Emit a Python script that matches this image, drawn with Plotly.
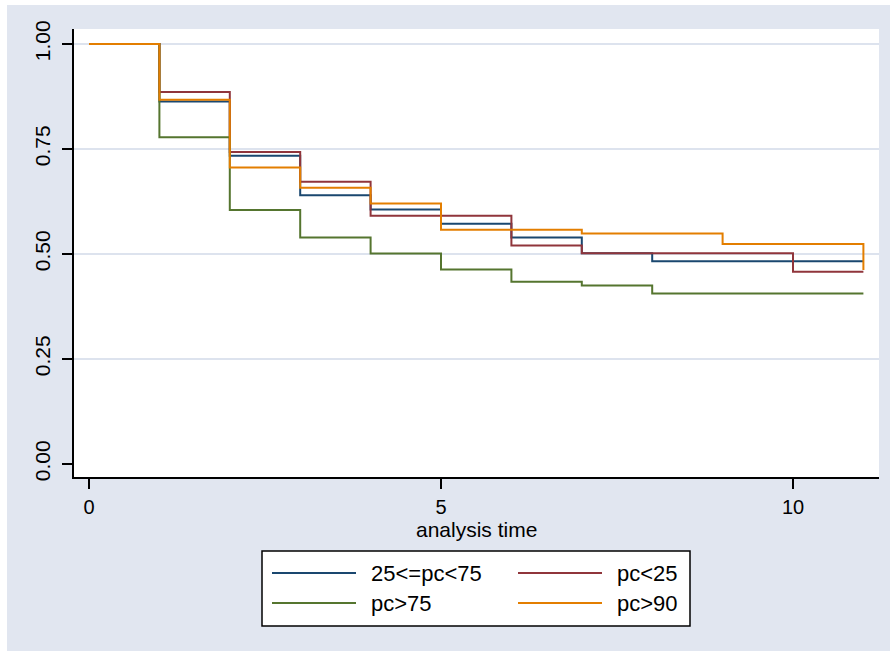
import plotly.graph_objects as go

# ---- data ----
groups = ["25<=pc<75", "pc<25", "pc>75", "pc>90"]
colors = ["#1a476f", "#90353b", "#55752f", "#e37e00"]

t_mid = [0, 1, 2, 3, 4, 5, 6, 7, 8, 11]
s_mid = [1.0, 0.863, 0.734, 0.640, 0.606, 0.572, 0.539, 0.502, 0.483, 0.483]

t_low = [0, 1, 2, 3, 4, 6, 7, 10, 11]
s_low = [1.0, 0.886, 0.743, 0.672, 0.591, 0.520, 0.502, 0.458, 0.458]

t_high = [0, 1, 2, 3, 4, 5, 6, 7, 8, 11]
s_high = [1.0, 0.778, 0.605, 0.539, 0.501, 0.463, 0.434, 0.425, 0.406, 0.406]

t_top = [0, 1, 2, 3, 4, 5, 7, 9, 11]
s_top = [1.0, 0.867, 0.706, 0.658, 0.620, 0.558, 0.549, 0.524, 0.462]

times = [t_mid, t_low, t_high, t_top]
surv = [s_mid, s_low, s_high, s_top]

y_ticks = [0, 0.25, 0.5, 0.75, 1.0]
y_tick_text = ["0.00", "0.25", "0.50", "0.75", "1.00"]
x_ticks = [0, 5, 10]
x_tick_text = ["0", "5", "10"]
x_title = "analysis time"

# ---- layout geometry (pixels) ----
W, H = 890, 651
L, R, T, B = 74, 879, 29, 477
pw, ph = R - L, B - T
BG = "#e1e6f0"
FONT = "Liberation Sans, Arial, sans-serif"


def px(x):
    return (x - L) / pw


def py(y):
    return (B - y) / ph


fig = go.Figure()
for g, c, t, s in zip(groups, colors, times, surv):
    fig.add_trace(go.Scatter(x=t, y=s, mode="lines", line_shape="hv",
                             line=dict(color=c, width=2), name=g,
                             showlegend=False))

shapes = []
# white plot region
shapes.append(dict(type="rect", xref="paper", yref="paper", x0=0, x1=1, y0=0, y1=1,
                   fillcolor="white", line_width=0, layer="below"))
# white strips outside the light graph region
shapes.append(dict(type="rect", xref="paper", yref="paper", x0=px(0), x1=px(7),
                   y0=py(H), y1=py(0), fillcolor="white", line_width=0, layer="below"))
shapes.append(dict(type="rect", xref="paper", yref="paper", x0=px(0), x1=px(W),
                   y0=py(5), y1=py(0), fillcolor="white", line_width=0, layer="below"))
# grid lines
for v in y_ticks[1:]:
    shapes.append(dict(type="line", xref="paper", yref="y", x0=0, x1=1, y0=v, y1=v,
                       line=dict(color="#dde3ee", width=2), layer="below"))

# legend box
lx0, lx1, ly0, ly1 = 262, 690, 551, 626
shapes.append(dict(type="rect", xref="paper", yref="paper", x0=px(lx0), x1=px(lx1),
                   y0=py(ly1), y1=py(ly0), fillcolor="white",
                   line=dict(color="black", width=1.5)))
annotations = []
rows = [573, 603]
cols = [(272, 356, 369), (518, 602, 615)]
pos = [(0, 0), (0, 1), (1, 0), (1, 1)]
for g, c, (r, k) in zip(groups, colors, pos):
    x0, x1, xt = cols[k]
    yy = rows[r]
    shapes.append(dict(type="line", xref="paper", yref="paper", x0=px(x0), x1=px(x1),
                       y0=py(yy), y1=py(yy), line=dict(color=c, width=2)))
    annotations.append(dict(x=px(xt), y=py(yy), xref="paper", yref="paper", text=g,
                            showarrow=False, xanchor="left", yanchor="middle",
                            font=dict(family=FONT, size=22, color="black")))

# x-axis title
annotations.append(dict(x=0.5, y=py(529), xref="paper", yref="paper", text=x_title,
                        showarrow=False, xanchor="center", yanchor="middle",
                        font=dict(family=FONT, size=21, color="black")))

fig.update_layout(
    width=W, height=H,
    margin=dict(l=L, r=W - R, t=T, b=H - B, pad=0),
    paper_bgcolor=BG, plot_bgcolor="rgba(0,0,0,0)",
    shapes=shapes, annotations=annotations, showlegend=False,
    font=dict(family=FONT, color="black"),
    xaxis=dict(range=[-15 / 70.4, (R - 89) / 70.4], tickvals=x_ticks, ticktext=x_tick_text,
               showgrid=False, zeroline=False, showline=True, linecolor="black", linewidth=2,
               ticks="outside", ticklen=10, tickwidth=2, tickcolor="black",
               tickfont=dict(size=20, family=FONT), ticklabelstandoff=1),
    yaxis=dict(range=[-(B - 464) / 420, 1 + (44 - T) / 420], tickvals=y_ticks, ticktext=y_tick_text,
               showgrid=False, zeroline=False, showline=True, linecolor="black", linewidth=2,
               ticks="outside", ticklen=10, tickwidth=2, tickcolor="black", tickangle=-90,
               tickfont=dict(size=21, family=FONT), ticklabelstandoff=4),
)

fig.write_html("out.html", config={"displayModeBar": False},
               post_script="document.body.style.margin='0px';document.body.style.padding='0px';")
